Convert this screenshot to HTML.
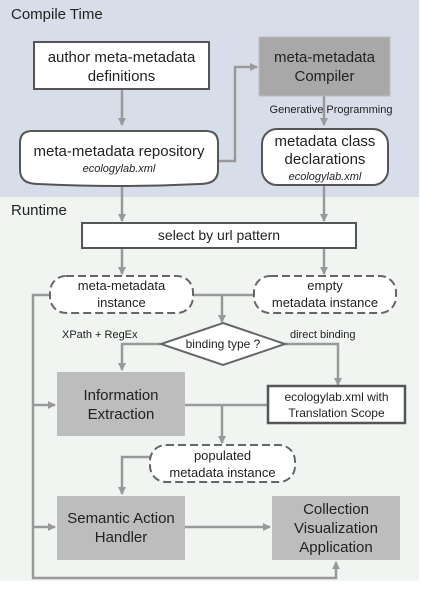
<!DOCTYPE html>
<html><head><meta charset="utf-8"><style>
html,body{margin:0;padding:0;background:#fff}
svg{display:block}
text{font-family:"Liberation Sans",sans-serif;fill:#222}
</style></head><body>
<svg width="421" height="594" viewBox="0 0 421 594" xmlns="http://www.w3.org/2000/svg">
<defs>
<marker id="a" markerWidth="8" markerHeight="8" refX="7" refY="4" orient="auto" markerUnits="userSpaceOnUse">
<path d="M0,0 L8,4 L0,8 Z" fill="#999"/></marker>
</defs>
<rect x="0" y="0" width="419" height="197" fill="#d7deea"/>
<rect x="0" y="197" width="419" height="384" fill="#f1f5f1"/>
<text x="11" y="19" font-size="15">Compile Time</text>
<text x="11" y="215" font-size="15">Runtime</text>

<g stroke="#999" stroke-width="2.5" fill="none">
<line x1="122" y1="89" x2="122" y2="125" marker-end="url(#a)"/>
<line x1="324" y1="96" x2="324" y2="125" marker-end="url(#a)"/>
<polyline points="218,161 235,161 235,67 257,67" marker-end="url(#a)"/>
<line x1="122" y1="185" x2="122" y2="221" marker-end="url(#a)"/>
<line x1="324" y1="185" x2="324" y2="221" marker-end="url(#a)"/>
<line x1="122" y1="248" x2="122" y2="274" marker-end="url(#a)"/>
<line x1="324" y1="248" x2="324" y2="274" marker-end="url(#a)"/>
<line x1="193" y1="295" x2="254" y2="295"/>
<line x1="222" y1="295" x2="222" y2="322" marker-end="url(#a)"/>
<polyline points="161,344 122,344 122,370" marker-end="url(#a)"/>
<polyline points="285,344 338,344 338,385" marker-end="url(#a)"/>
<line x1="185" y1="405" x2="268" y2="405"/>
<line x1="222" y1="405" x2="222" y2="443" marker-end="url(#a)"/>
<polyline points="150,457 122,457 122,494" marker-end="url(#a)"/>
<line x1="185" y1="527" x2="270" y2="527" marker-end="url(#a)"/>
<polyline points="50,295 33,295 33,578 336,578 336,562" marker-end="url(#a)"/>
<line x1="33" y1="405" x2="55" y2="405" marker-end="url(#a)"/>
<line x1="33" y1="527" x2="55" y2="527" marker-end="url(#a)"/>
</g>

<rect x="34" y="42" width="175" height="47" fill="#fff" stroke="#555" stroke-width="2"/>
<text x="121.5" y="62" font-size="15" text-anchor="middle">author meta-metadata</text>
<text x="121.5" y="81" font-size="15" text-anchor="middle">definitions</text>

<rect x="259" y="37" width="131" height="59" fill="#a8a8a8" stroke="#bbb"/>
<text x="324.5" y="62" font-size="15" text-anchor="middle">meta-metadata</text>
<text x="324.5" y="81" font-size="15" text-anchor="middle">Compiler</text>
<text x="331" y="113" font-size="11" text-anchor="middle">Generative  Programming</text>

<path d="M20,143 Q20,131 32,131 L206,131 Q218,131 218,143 L218,170 Q218,184 200,184 Q119,188 38,184 Q20,184 20,170 Z" fill="#fff" stroke="#555" stroke-width="2"/>
<text x="119" y="156" font-size="15" text-anchor="middle">meta-metadata  repository</text>
<text x="119" y="172" font-size="11" font-style="italic" text-anchor="middle">ecologylab.xml</text>

<rect x="262" y="129" width="126" height="56" rx="15" fill="#fff" stroke="#555" stroke-width="2"/>
<text x="325" y="146" font-size="15" text-anchor="middle">metadata class</text>
<text x="325" y="164" font-size="15" text-anchor="middle">declarations</text>
<text x="325" y="180" font-size="11" font-style="italic" text-anchor="middle">ecologylab.xml</text>

<rect x="82" y="223" width="274" height="25" fill="#fff" stroke="#555" stroke-width="2"/>
<text x="219" y="240" font-size="14" text-anchor="middle">select by url pattern</text>

<rect x="50" y="276" width="143" height="37" rx="16" fill="#fff" stroke="#666" stroke-width="2" stroke-dasharray="8,4"/>
<text x="121.5" y="290" font-size="13" text-anchor="middle">meta-metadata</text>
<text x="121.5" y="307" font-size="13" text-anchor="middle">instance</text>
<rect x="254" y="276" width="142" height="37" rx="16" fill="#fff" stroke="#666" stroke-width="2" stroke-dasharray="8,4"/>
<text x="325" y="290" font-size="13" text-anchor="middle">empty</text>
<text x="325" y="307" font-size="13" text-anchor="middle">metadata instance</text>

<polygon points="223,323 285,344 223,365 161,344" fill="#fff" stroke="#666" stroke-width="2"/>
<text x="223" y="348" font-size="12" text-anchor="middle">binding type ?</text>
<text x="62" y="338" font-size="11">XPath + RegEx</text>
<text x="290" y="338" font-size="11">direct binding</text>

<rect x="57" y="372" width="128" height="64" fill="#bdbdbd"/>
<text x="121" y="400" font-size="15" text-anchor="middle">Information</text>
<text x="121" y="419" font-size="15" text-anchor="middle">Extraction</text>

<rect x="268" y="386" width="137" height="37" fill="#fff" stroke="#555" stroke-width="2.5"/>
<text x="336.5" y="401" font-size="12" text-anchor="middle">ecologylab.xml with</text>
<text x="336.5" y="417" font-size="12" text-anchor="middle">Translation Scope</text>

<rect x="150" y="445" width="145" height="37" rx="16" fill="#fff" stroke="#666" stroke-width="2" stroke-dasharray="8,4"/>
<text x="222.5" y="460" font-size="13" text-anchor="middle">populated</text>
<text x="222.5" y="477" font-size="13" text-anchor="middle">metadata instance</text>

<rect x="57" y="496" width="128" height="64" fill="#bdbdbd"/>
<text x="121" y="523" font-size="15" text-anchor="middle">Semantic Action</text>
<text x="121" y="542" font-size="15" text-anchor="middle">Handler</text>

<rect x="272" y="496" width="128" height="64" fill="#bdbdbd"/>
<text x="336" y="514" font-size="15" text-anchor="middle">Collection</text>
<text x="336" y="533" font-size="15" text-anchor="middle">Visualization</text>
<text x="336" y="552" font-size="15" text-anchor="middle">Application</text>
</svg>
</body></html>
